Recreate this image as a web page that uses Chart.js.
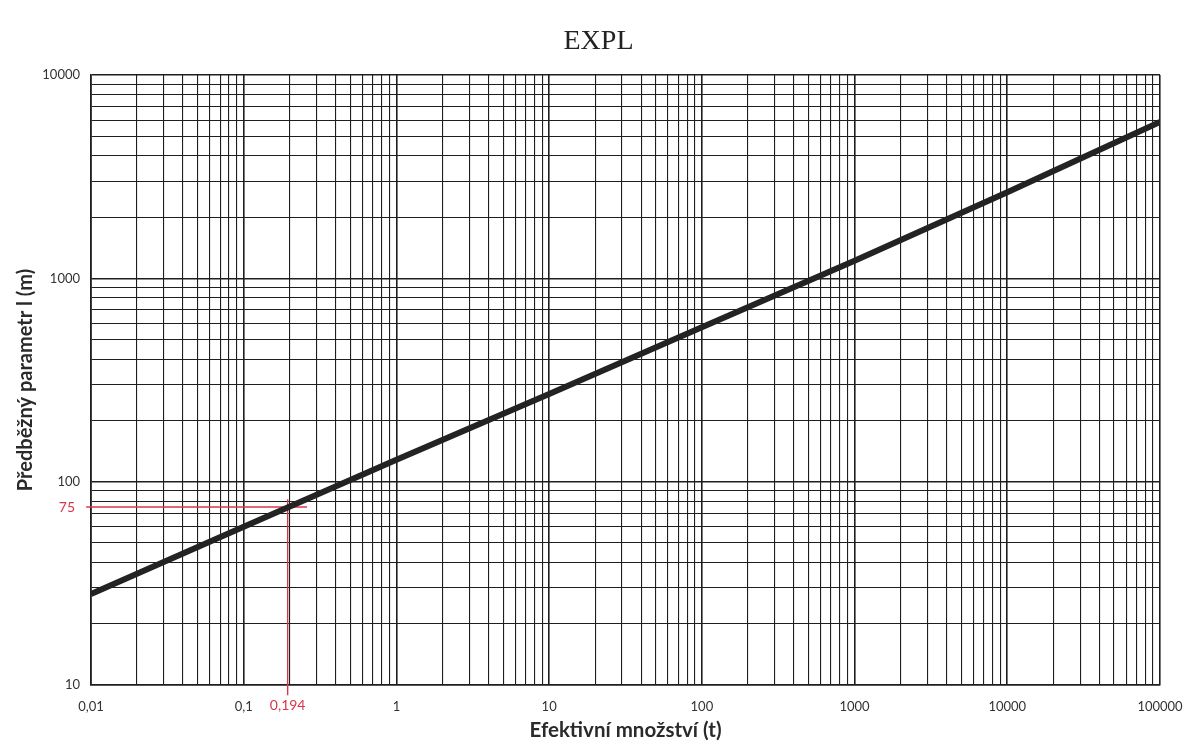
<!DOCTYPE html>
<html>
<head>
<meta charset="utf-8">
<script src="https://cdn.jsdelivr.net/npm/chart.js@4.4.1/dist/chart.umd.min.js"></script>
<style>
html,body{margin:0;padding:0;background:#fff;}
#wrap{width:1197px;height:745px;}
</style>
</head>
<body>
<div id="wrap"><canvas id="c" width="1197" height="745"></canvas></div>
<script>
// Data
const quantities = [0.01, 0.1, 1, 10, 100, 1000, 10000, 100000];
const paramL = [28, 60, 128, 270, 575, 1220, 2650, 5875];
const xTickLabels = ['0,01', '0,1', '1', '10', '100', '1000', '10000', '100000'];
const yTickValues = [10, 100, 1000, 10000];
const yTickLabels = ['10', '100', '1000', '10000'];
const markQuantity = 0.194;
const markParam = 75;
const markQuantityLabel = '0,194';
const markParamLabel = '75';
const markVLine = [{x: markQuantity, y: 82}, {x: markQuantity, y: 8.9}];
const markHLine = [{x: 0.0093, y: markParam}, {x: 0.26, y: markParam}];

function logTicks(min, max) {
  const out = [];
  for (let e = Math.round(Math.log10(min)); e < Math.round(Math.log10(max)); e++) {
    for (let s = 1; s <= 9; s++) out.push(+(s * Math.pow(10, e)).toPrecision(6));
  }
  out.push(max);
  return out;
}
function isPow10(v) {
  const l = Math.log10(v);
  return Math.abs(l - Math.round(l)) < 1e-9;
}
const RED = '#d8344a';

const markLabels = {
  id: 'markLabels',
  afterDraw(chart) {
    const ctx = chart.ctx;
    const xs = chart.scales.x, ys = chart.scales.y;
    ctx.save();
    ctx.fillStyle = RED;
    ctx.font = '14px Lato, "Open Sans", sans-serif';
    ctx.textAlign = 'center';
    ctx.textBaseline = 'middle';
    ctx.fillText(markQuantityLabel, xs.getPixelForValue(markQuantity), chart.chartArea.bottom + 20);
    ctx.textAlign = 'right';
    ctx.fillText(markParamLabel, chart.chartArea.left - 16, ys.getPixelForValue(markParam));
    ctx.restore();
  }
};

const gridW = (c) => (c.tick && isPow10(c.tick.value)) ? 1.6 : 1.1;

new Chart(document.getElementById('c'), {
  type: 'line',
  data: {
    datasets: [
      {
        data: quantities.map((q, i) => ({x: q, y: paramL[i]})),
        borderColor: '#232323',
        borderWidth: 6,
        pointRadius: 0,
        tension: 0,
        order: 0
      },
      {
        data: markVLine,
        borderColor: RED,
        borderWidth: 1.4,
        pointRadius: 0,
        clip: false,
        order: 1
      },
      {
        data: markHLine,
        borderColor: RED,
        borderWidth: 1.4,
        pointRadius: 0,
        clip: false,
        order: 1
      }
    ]
  },
  options: {
    responsive: false,
    animation: false,
    layout: {padding: 0},
    plugins: {
      legend: {display: false},
      tooltip: {enabled: false},
      title: {
        display: true,
        text: 'EXPL',
        color: '#222',
        font: {family: '"Liberation Serif", "DejaVu Serif", serif', size: 28, weight: 'normal'},
        padding: {top: 25, bottom: 16.4}
      }
    },
    scales: {
      x: {
        type: 'logarithmic',
        min: 0.01,
        max: 100000,
        afterBuildTicks: (s) => { s.ticks = logTicks(0.01, 100000).map(v => ({value: v})); },
        afterFit: (s) => { s.height = 60; },
        grid: {color: '#1e1e1e', lineWidth: gridW, drawTicks: false},
        border: {color: '#1e1e1e', width: 1.6},
        ticks: {
          autoSkip: false,
          maxRotation: 0,
          padding: 14,
          color: '#333',
          font: {family: 'Lato, "Open Sans", sans-serif', size: 13},
          callback: (v) => {
            const i = quantities.findIndex(q => Math.abs(q - v) / q < 1e-6);
            return i >= 0 ? xTickLabels[i] : '';
          }
        },
        title: {
          display: true,
          text: 'Efektivní množství (t)',
          color: '#2a2a2a',
          font: {family: 'Lato, "Open Sans", sans-serif', size: 20.5, weight: 'bold'},
          padding: {top: 0, bottom: 2}
        }
      },
      y: {
        type: 'logarithmic',
        min: 10,
        max: 10000,
        afterBuildTicks: (s) => { s.ticks = logTicks(10, 10000).map(v => ({value: v})); },
        afterFit: (s) => { s.width = 91; },
        grid: {color: '#1e1e1e', lineWidth: gridW, drawTicks: false},
        border: {color: '#1e1e1e', width: 1.6},
        ticks: {
          autoSkip: false,
          padding: 11,
          color: '#333',
          font: {family: 'Lato, "Open Sans", sans-serif', size: 13},
          callback: (v) => {
            const i = yTickValues.findIndex(q => Math.abs(q - v) / q < 1e-6);
            return i >= 0 ? yTickLabels[i] : '';
          }
        },
        title: {
          display: true,
          text: 'Předběžný parametr l (m)',
          color: '#2a2a2a',
          font: {family: 'Lato, "Open Sans", sans-serif', size: 20, weight: 'bold'},
          padding: {top: 14, bottom: 0}
        }
      },
      yPad: {
        type: 'linear',
        position: 'right',
        display: true,
        grid: {display: false, drawTicks: false},
        border: {display: false},
        ticks: {display: false},
        afterFit: (s) => { s.width = 37; }
      }
    }
  },
  plugins: [markLabels]
});
</script>
</body>
</html>
